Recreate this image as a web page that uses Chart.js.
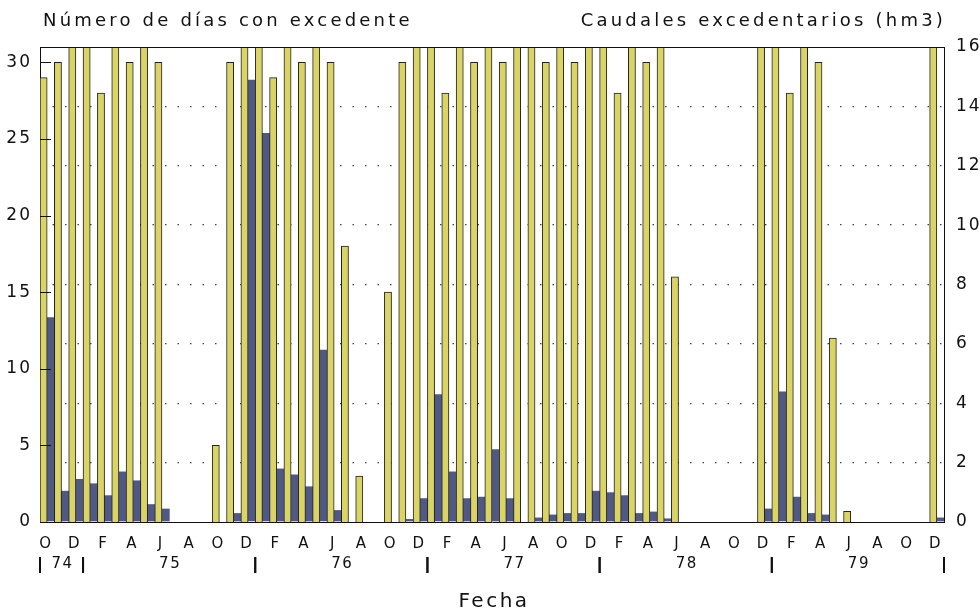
<!DOCTYPE html>
<html lang="es">
<head>
<meta charset="UTF-8">
<title>Días con excedente y caudales excedentarios</title>
<script src="https://cdn.jsdelivr.net/npm/chart.js"></script>
<style>
  html, body { margin: 0; padding: 0; background: #fff; }
  #grafico { display: block; }
</style>
</head>
<body>
<canvas id="grafico" width="980" height="611"></canvas>
<script>
  // meses de octubre 1974 a diciembre 1979
  const meses = [
    'Oct 74', 'Nov 74', 'Dic 74',
    'Ene 75', 'Feb 75', 'Mar 75', 'Abr 75', 'May 75', 'Jun 75', 'Jul 75', 'Ago 75', 'Sep 75', 'Oct 75', 'Nov 75', 'Dic 75',
    'Ene 76', 'Feb 76', 'Mar 76', 'Abr 76', 'May 76', 'Jun 76', 'Jul 76', 'Ago 76', 'Sep 76', 'Oct 76', 'Nov 76', 'Dic 76',
    'Ene 77', 'Feb 77', 'Mar 77', 'Abr 77', 'May 77', 'Jun 77', 'Jul 77', 'Ago 77', 'Sep 77', 'Oct 77', 'Nov 77', 'Dic 77',
    'Ene 78', 'Feb 78', 'Mar 78', 'Abr 78', 'May 78', 'Jun 78', 'Jul 78', 'Ago 78', 'Sep 78', 'Oct 78', 'Nov 78', 'Dic 78',
    'Ene 79', 'Feb 79', 'Mar 79', 'Abr 79', 'May 79', 'Jun 79', 'Jul 79', 'Ago 79', 'Sep 79', 'Oct 79', 'Nov 79', 'Dic 79'
  ];

  // número de días con excedente (eje izquierdo)
  const dias = [
    29, 30, 31,
    31, 28, 31, 30, 31, 30, 0, 0, 0, 5, 30, 31,
    31, 29, 31, 30, 31, 30, 18, 3, 0, 15, 30, 31,
    31, 28, 31, 30, 31, 30, 31, 31, 30, 31, 30, 31,
    31, 28, 31, 30, 31, 16, 0, 0, 0, 0, 0, 31,
    31, 28, 31, 30, 12, 0.7, 0, 0, 0, 0, 0, 31
  ];

  // caudales excedentarios en hm3 (eje derecho)
  const caudales = [
    6.9, 1.05, 1.45,
    1.3, 0.9, 1.7, 1.4, 0.6, 0.45, 0, 0, 0, 0, 0.3, 14.9,
    13.1, 1.8, 1.6, 1.2, 5.8, 0.4, 0, 0, 0, 0, 0.1, 0.8,
    4.3, 1.7, 0.8, 0.85, 2.45, 0.8, 0, 0.15, 0.25, 0.3, 0.3, 1.05,
    1.0, 0.9, 0.3, 0.35, 0.12, 0, 0, 0, 0, 0, 0, 0.45,
    4.4, 0.85, 0.3, 0.25, 0, 0, 0, 0, 0, 0, 0, 0.15
  ];

  const anios = ['74', '75', '76', '77', '78', '79'];
  const ticksIzq = [0, 5, 10, 15, 20, 25, 30];
  const ticksDer = [0, 2, 4, 6, 8, 10, 12, 14, 16];

  const fuente = '"DejaVu Sans", sans-serif';
  Chart.defaults.font.family = fuente;
  Chart.defaults.color = '#111';

  // textos extra: títulos, años y separadores, marco superior
  const textos = {
    id: 'textos',
    beforeDraw(chart) {
      chart.ctx.letterSpacing = '2px';
    },
    afterDraw(chart) {
      const { ctx, chartArea: a, scales: { x, y } } = chart;
      ctx.save();
      ctx.strokeStyle = '#111';
      ctx.lineWidth = 1;
      ctx.beginPath();
      ctx.moveTo(a.left, a.top + 0.5);
      ctx.lineTo(a.right, a.top + 0.5);
      ctx.stroke();

      // marcas interiores del eje izquierdo
      ticksIzq.slice(1).forEach(v => {
        const py = Math.round(y.getPixelForValue(v)) + 0.5;
        ctx.beginPath();
        ctx.moveTo(a.left, py);
        ctx.lineTo(a.left + 11, py);
        ctx.stroke();
      });

      ctx.fillStyle = '#111';
      ctx.textBaseline = 'alphabetic';
      ctx.font = '18px ' + fuente;
      ctx.letterSpacing = '3.2px';
      ctx.textAlign = 'left';
      ctx.fillText('Número de días con excedente', a.left + 3, 26);
      ctx.textAlign = 'right';
      ctx.fillText('Caudales excedentarios (hm3)', a.right + 2, 26);

      ctx.font = '20px ' + fuente;
      ctx.letterSpacing = '2.5px';
      ctx.textAlign = 'center';
      ctx.fillText('Fecha', (a.left + a.right) / 2 + 2, 607);

      const paso = x.getPixelForValue(1) - x.getPixelForValue(0);
      ctx.font = '15px ' + fuente;
      ctx.letterSpacing = '1.5px';
      ctx.textBaseline = 'middle';
      ctx.lineWidth = 2;
      anios.forEach(an => {
        const idx = [];
        meses.forEach((m, i) => { if (m.endsWith(' ' + an)) idx.push(i); });
        const x0 = x.getPixelForValue(idx[0]) - paso / 2;
        const x1 = x.getPixelForValue(idx[idx.length - 1]) + paso / 2;
        ctx.fillText(an, (x0 + x1) / 2 + 1, 564);
        [x0, x1].forEach(px => {
          ctx.beginPath();
          ctx.moveTo(px, 557);
          ctx.lineTo(px, 573);
          ctx.stroke();
        });
      });
      ctx.restore();
      ctx.letterSpacing = '0px';
    }
  };

  new Chart(document.getElementById('grafico'), {
    type: 'bar',
    data: {
      labels: meses,
      datasets: [
        {
          label: 'Número de días con excedente',
          data: dias,
          yAxisID: 'y',
          backgroundColor: '#dad365',
          borderColor: '#222',
          borderWidth: { top: 1, left: 1, right: 1, bottom: 0 },
          borderSkipped: 'start',
          barPercentage: 1,
          categoryPercentage: 1
        },
        {
          label: 'Caudales excedentarios (hm3)',
          data: caudales,
          yAxisID: 'y1',
          backgroundColor: '#4f5984',
          borderWidth: 0,
          barPercentage: 1.15,
          categoryPercentage: 1
        }
      ]
    },
    options: {
      responsive: false,
      animation: false,
      layout: { padding: { top: 47, left: 0, right: 0, bottom: 0 } },
      plugins: { legend: { display: false }, tooltip: { enabled: false } },
      scales: {
        x: {
          offset: true,
          grid: { display: false, drawTicks: false },
          border: { display: true, color: '#111', width: 1 },
          ticks: {
            autoSkip: false,
            maxRotation: 0,
            minRotation: 0,
            padding: 13,
            labelOffset: -1,
            font: { size: 15 },
            callback: (v, i) => i % 2 === 0 ? meses[i].charAt(0) : ''
          },
          afterFit: s => { s.height = 89; }
        },
        y: {
          position: 'left',
          min: 0,
          max: 31,
          grid: { display: false, drawTicks: false },
          border: { display: true, color: '#111', width: 1 },
          afterBuildTicks: s => { s.ticks = ticksIzq.map(v => ({ value: v })); },
          ticks: { padding: 8, font: { size: 17 } },
          afterFit: s => { s.width = 40; }
        },
        y1: {
          position: 'right',
          min: 0,
          max: 16,
          grid: {
            drawTicks: false,
            lineWidth: 1.3,
            color: c => (c.tick.value === 0 || c.tick.value === 16) ? 'rgba(0,0,0,0)' : '#444'
          },
          border: { display: true, color: '#111', width: 1, dash: [1.5, 11] },
          afterBuildTicks: s => { s.ticks = ticksDer.map(v => ({ value: v })); },
          ticks: { padding: 12, font: { size: 17 } },
          afterFit: s => { s.width = 36; }
        }
      }
    },
    plugins: [textos]
  });
</script>
</body>
</html>
